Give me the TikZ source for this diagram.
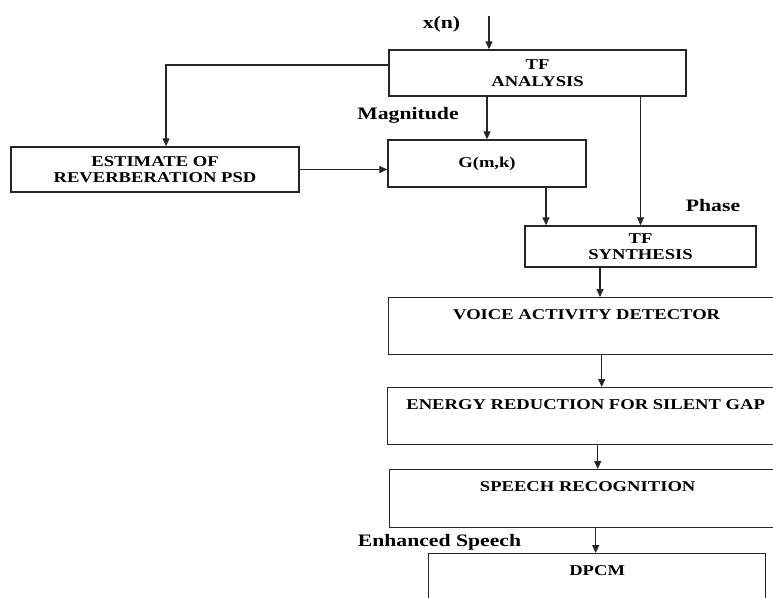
\documentclass[tikz,border=0pt]{standalone}
\usepackage{fontspec}
\setmainfont{Liberation Serif}
\newfontfamily\blockfont{Liberation Serif}[FakeStretch=1.24]
\usetikzlibrary{positioning,arrows.meta}
\tikzset{
  block/.style  ={draw=black!85, line width=1.4pt, align=center, inner sep=0pt,
                  font=\blockfont\fontsize{15}{16.5}\selectfont\bfseries},
  stage/.style  ={block, anchor=north west, minimum width=396pt, text height=21.5pt, text depth=35.5pt},
  sig/.style    ={font=\blockfont\fontsize{17.5}{19}\selectfont\bfseries, inner sep=0pt},
  flowarr/.style={-{Triangle[length=8pt,width=7pt]}, line width=1.3pt, draw=black!85},
}
\begin{document}
\begin{tikzpicture}[x=1pt, y=-1pt]
\useasboundingbox (0,0) rectangle (773,597);
\clip (0,0) rectangle (773,597);
% time-frequency front end
\node[block, minimum width=297pt, minimum height=46pt] (ana) at (537.5,73) {TF\\ANALYSIS};
\node[block, minimum width=288pt, minimum height=45pt] (est) at (155,169.5) {ESTIMATE OF\\REVERBERATION PSD};
\node[block, minimum width=198pt, minimum height=47pt] (gain) at (487,163.5) {G(m,k)};
\node[block, minimum width=231pt, minimum height=41pt] (syn) at (640.5,246.5) {TF\\SYNTHESIS};
% detection and coding chain
\node[stage] (vad) at (388,297) {VOICE ACTIVITY DETECTOR};
\node[stage] (egy) at (387,387) {ENERGY REDUCTION FOR SILENT GAP};
\node[stage, text depth=36.5pt] (rec) at (389,469) {SPEECH RECOGNITION};
\node[stage, minimum width=337pt] (dpcm) at (428,553) {DPCM};
% signal labels
\node[sig] (xn)  at (441.5,24)  {x(n)};
\node[sig] (mag) at (408,115)   {Magnitude};
\node[sig] (ph)  at (713,206)   {Phase};
\node[sig] (enh) at (439.5,542) {Enhanced Speech};
% connectors
\coordinate (src) at (489,16);
\draw[flowarr] (src) -- (src |- ana.north);
\draw[flowarr] (gain |- ana.south) -- (gain.north);
\draw[flowarr] ([yshift=8pt]ana.west) -| ([xshift=11pt]est.north);
\draw[flowarr] (est.east) -- (est.east -| gain.west);
\draw[flowarr] (syn.north |- ana.south) -- (syn.north);
\draw[flowarr] ([xshift=59pt]gain.south) -- ([xshift=59pt]gain.south |- syn.north);
\draw[flowarr] ([xshift=-40.5pt]syn.south) -- ([xshift=-40.5pt]syn.south |- vad.north);
\draw[flowarr] ([xshift=15pt]vad.south) -- ([xshift=15pt]vad.south |- egy.north);
\draw[flowarr] ([xshift=12pt]egy.south) -- ([xshift=12pt]egy.south |- rec.north);
\draw[flowarr] ([xshift=8pt]rec.south) -- ([xshift=8pt]rec.south |- dpcm.north);
\end{tikzpicture}
\end{document}
